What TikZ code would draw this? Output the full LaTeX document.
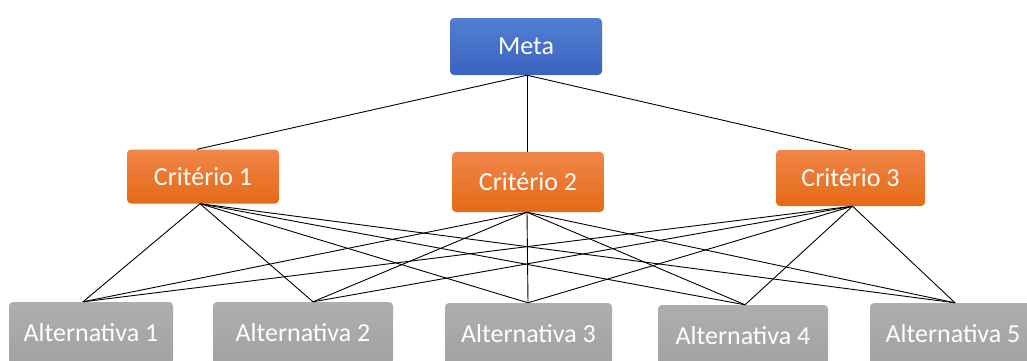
\documentclass[tikz,border=0pt]{standalone}
\usepackage{fontspec}
\setmainfont{Carlito}
\definecolor{metaT}{HTML}{527FD2}
\definecolor{metaB}{HTML}{3A62C0}
\definecolor{critT}{HTML}{F1854A}
\definecolor{critB}{HTML}{E56A16}
\definecolor{altT}{HTML}{AEAEAE}
\definecolor{altB}{HTML}{A2A2A2}
\tikzset{
  box/.style={rounded corners=4pt, text=white, font=\fontsize{26}{30}\selectfont, inner sep=0pt, anchor=center},
  metabox/.style={box, top color=metaT, bottom color=metaB, minimum width=152pt, minimum height=57pt},
  critbox/.style={box, top color=critT, bottom color=critB, minimum width=152pt, minimum height=54pt},
  altbox/.style={box, top color=altT, bottom color=altB, minimum height=62pt},
  link/.style={draw=black, line width=0.9pt}
}
\begin{document}
\begin{tikzpicture}[x=1pt,y=-1pt]
\useasboundingbox (0,0) rectangle (1027,360);
\clip (0,0) rectangle (1027,360);
\fill[white] (0,0) rectangle (1027,360);
% nodes
\node[metabox] (meta) at (526,46.5) {Meta};
\node[critbox] (c1) at (203,176.5) {Critério 1};
\node[critbox, minimum height=60pt] (c2) at (528,182) {Critério 2};
\node[critbox, minimum width=149pt, minimum height=56pt] (c3) at (850.5,178) {Critério 3};
\node[altbox, minimum width=164pt] (a1) at (91,333) {Alternativa 1};
\node[altbox, minimum width=180pt] (a2) at (303,333) {Alternativa 2};
\node[altbox, minimum width=167pt] (a3) at (528.5,334) {Alternativa 3};
\node[altbox, minimum width=170pt] (a4) at (743,336) {Alternativa 4};
\node[altbox, minimum width=166pt] (a5) at (953,334) {Alternativa 5};
% anchor points
\coordinate (m0) at ([xshift=1pt]meta.south);
\coordinate (c1t) at ([xshift=-6pt]c1.north);
\coordinate (c2t) at ([xshift=-1pt]c2.north);
\coordinate (c3t) at ([xshift=1pt]c3.north);
\coordinate (c1b) at ([xshift=-3pt]c1.south);
\coordinate (c2b) at ([xshift=-1pt]c2.south);
\coordinate (c3b) at ([xshift=2pt]c3.south);
\coordinate (a1t) at ([xshift=-8pt]a1.north);
\coordinate (a2t) at ([xshift=10pt]a2.north);
\coordinate (a3t) at ([xshift=-0.5pt]a3.north);
\coordinate (a4t) at ([xshift=2pt]a4.north);
\coordinate (a5t) at ([xshift=2pt]a5.north);
% connectors
\draw[link] (m0) -- (c1t);
\draw[link] (m0) -- (c2t);
\draw[link] (m0) -- (c3t);
\foreach \c in {c1b,c2b,c3b}{
  \foreach \a in {a1t,a2t,a3t,a4t,a5t}{
    \draw[link] (\c) -- (\a);
  }
}
\end{tikzpicture}
\end{document}
